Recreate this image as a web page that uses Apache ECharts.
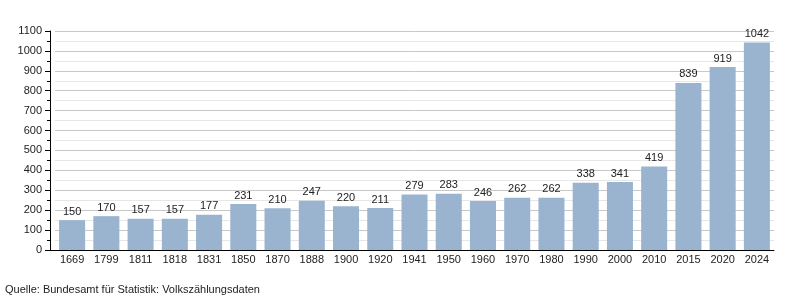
<!DOCTYPE html>
<html><head><meta charset="utf-8">
<script src="https://cdn.jsdelivr.net/npm/echarts@6/dist/echarts.min.js"></script>
<style>html,body{margin:0;padding:0;background:#fff}#c{width:800px;height:300px}</style>
</head><body><div id="c"></div>
<script>
const years = ['1669','1799','1811','1818','1831','1850','1870','1888','1900','1920','1941','1950','1960','1970','1980','1990','2000','2010','2015','2020','2024'];
const population = [150,170,157,157,177,231,210,247,220,211,279,283,246,262,262,338,341,419,839,919,1042];
const sourceText = 'Quelle: Bundesamt für Statistik: Volkszählungsdaten';
const chart = echarts.init(document.getElementById('c'), null, {renderer:'canvas'});
const font = 'Liberation Sans, Arial, sans-serif';
chart.setOption({
  animation:false,
  textStyle:{fontFamily:font},
  grid:{left:55,right:26,top:31,bottom:50,containLabel:false},
  graphic:[
    {type:'text',left:5,top:284,style:{text:sourceText,font:'11px '+font,fill:'#222'}},
    {type:'line',shape:{x1:50,y1:250.5,x2:56,y2:250.5},style:{stroke:'#000',lineWidth:1}}
  ],
  xAxis:{type:'category',data:years,
    axisLine:{lineStyle:{color:'#000',width:1}},
    axisTick:{show:false},
    axisLabel:{color:'#222',fontSize:11,fontFamily:font,margin:4},
  },
  yAxis:{type:'value',min:0,max:1100,interval:100,offset:5,
    axisLine:{show:true,lineStyle:{color:'#000'}},
    axisTick:{show:true,length:5,lineStyle:{color:'#000'}},
    minorTick:{show:true,splitNumber:2,length:3,lineStyle:{color:'#000'}},
    axisLabel:{color:'#222',fontSize:11,fontFamily:font,margin:8,formatter:v=>String(v)},
    splitLine:{lineStyle:{color:'#c8c8c8'}},
    minorSplitLine:{show:true,lineStyle:{color:'#e6e6e6'}}
  },
  series:[{type:'bar',data:population,barCategoryGap:'24%',
    itemStyle:{color:'#9ab3cf'},
    label:{show:true,position:'top',color:'#222',fontSize:11,fontFamily:font,distance:3}
  }]
});
</script></body></html>
